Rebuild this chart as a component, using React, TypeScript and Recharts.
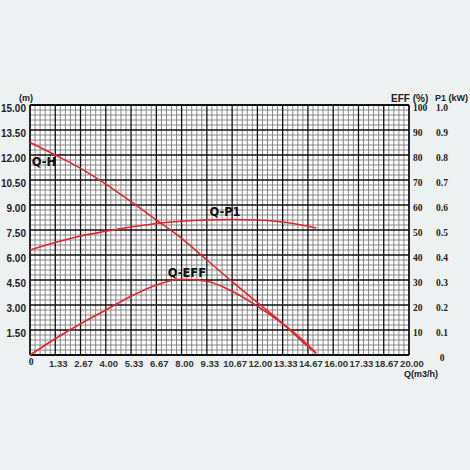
import React from 'react';
import { LineChart, Line, XAxis, YAxis, ReferenceLine, ReferenceArea, ReferenceDot } from 'recharts';

// Flow (m3/h) sample points shared by the three curves
const qValues = [0, 1.33, 2.67, 4, 5.33, 6.67, 8, 9.33, 10.67, 12, 13.33, 14.67, 15.1];
// Q-H head (m)
const headValues = [12.75, 12.0, 11.2, 10.25, 9.2, 8.1, 7.0, 5.7, 4.4, 3.15, 1.9, 0.5, 0.1];
// Q-EFF efficiency (%)
const effValues = [0, 6.5, 12.5, 18, 23.5, 28, 30.3, 29.5, 25.5, 19.5, 12.5, 4, 0.8];
// Q-P1 power (kW)
const powerValues = [0.42, 0.45, 0.476, 0.495, 0.512, 0.526, 0.535, 0.54, 0.542, 0.54, 0.532, 0.515, 0.508];

const xTickLabels = ['0', '1.33', '2.67', '4.00', '5.33', '6.67', '8.00', '9.33', '10.67', '12.00', '13.33', '14.67', '16.00', '17.33', '18.67', '20.00'];
const headTickLabels = ['1.50', '3.00', '4.50', '6.00', '7.50', '9.00', '10.50', '12.00', '13.50', '15.00'];
const effTickLabels = ['10', '20', '30', '40', '50', '60', '70', '80', '90', '100'];
const powerTickLabels = ['0', '0.1', '0.2', '0.3', '0.4', '0.5', '0.6', '0.7', '0.8', '0.9', '1.0'];

const xTicks = xTickLabels.map((s, i) => (i * 4) / 3);
const headTicks = headTickLabels.map(Number);
const effTicks = effTickLabels.map(Number);
const powerTicks = powerTickLabels.map(Number);

const data = qValues.map((q, i) => ({ q, h: headValues[i], eff: effValues[i], p1: powerValues[i] }));

// grid subdivisions (5 minor cells per major cell)
const xGrid = Array.from({ length: 76 }, (_, i) => ({ v: (i * 4) / 15, major: i % 5 === 0, edge: i === 0 || i === 75 }));
const yGrid = Array.from({ length: 51 }, (_, i) => ({ v: i * 0.3, major: i % 5 === 0, edge: i === 0 || i === 50 }));

const RED = '#e3262c';
const SANS = '"Liberation Sans", Arial, sans-serif';
const SERIF = '"Liberation Serif", "Times New Roman", serif';

const XTick = (props: any) => {
  const { x, y, index } = props;
  const label = xTickLabels[index];
  if (index === 0) {
    return (
      <text x={x + 1} y={y + 10} textAnchor="middle" fontFamily={SERIF} fontWeight="bold" fontSize={9.5} fill="#222">
        {label}
      </text>
    );
  }
  return (
    <text x={x + 3} y={y + 12} textAnchor="middle" fontFamily={SANS} fontWeight="bold" fontSize={9.5} fill="#333">
      {label}
    </text>
  );
};

const HeadTick = (props: any) => {
  const { y, index } = props;
  return (
    <text x={26} y={y + 7} textAnchor="end" fontFamily={SANS} fontWeight="bold" fontSize={10} fill="#222">
      {headTickLabels[index]}
    </text>
  );
};

const EffTick = (props: any) => {
  const { x, y, index } = props;
  return (
    <text x={x + 4} y={y + 6} textAnchor="start" fontFamily={SERIF} fontWeight="bold" fontSize={9.5} fill="#222">
      {effTickLabels[index]}
    </text>
  );
};

const PowerTick = (props: any) => {
  const { x, y, index } = props;
  return (
    <text x={x + 6} y={y + 6} textAnchor="middle" fontFamily={SERIF} fontWeight="bold" fontSize={9.5} fill="#222">
      {powerTickLabels[index]}
    </text>
  );
};

const curveLabel = (value: string) => ({
  value,
  position: 'center' as const,
  fill: '#111',
  fontSize: 11.5,
  fontWeight: 'bold',
  fontFamily: '"DejaVu Sans", Verdana, sans-serif',
});

const titleStyle: React.CSSProperties = {
  position: 'absolute',
  fontFamily: SANS,
  fontWeight: 'bold',
  color: '#222',
  whiteSpace: 'nowrap',
  lineHeight: 1,
};

export default function App() {
  return (
    <div style={{ position: 'fixed', left: 0, top: 0, width: 470, height: 470, background: '#eef1f2' }}>
      <LineChart width={470} height={470} data={data} margin={{ top: 105, right: 0, bottom: 95, left: 0 }}>
        <XAxis
          dataKey="q"
          type="number"
          domain={[0, 20]}
          ticks={xTicks}
          interval={0}
          axisLine={false}
          tickLine={false}
          tickSize={0}
          tickMargin={0}
          height={20}
          tick={<XTick />}
        />
        <YAxis
          yAxisId="h"
          type="number"
          domain={[0, 15]}
          ticks={headTicks}
          interval={0}
          axisLine={false}
          tickLine={false}
          tickSize={0}
          width={30}
          tick={<HeadTick />}
        />
        <YAxis
          yAxisId="eff"
          orientation="right"
          type="number"
          domain={[0, 100]}
          ticks={effTicks}
          interval={0}
          axisLine={false}
          tickLine={false}
          tickSize={0}
          tickMargin={0}
          width={27}
          tick={<EffTick />}
        />
        <YAxis
          yAxisId="p1"
          orientation="right"
          type="number"
          domain={[0, 1]}
          ticks={powerTicks}
          interval={0}
          axisLine={false}
          tickLine={false}
          tickSize={0}
          tickMargin={0}
          width={34}
          tick={<PowerTick />}
        />
        <ReferenceArea yAxisId="h" x1={0} x2={20} y1={0} y2={15} fill="#ffffff" fillOpacity={1} stroke="none" />
        {xGrid.filter((g) => !g.major).map((g) => (
          <ReferenceLine key={'xm' + g.v} yAxisId="h" x={g.v} stroke="#7a7a7a" strokeWidth={0.9} />
        ))}
        {yGrid.filter((g) => !g.major).map((g) => (
          <ReferenceLine key={'ym' + g.v} yAxisId="h" y={g.v} stroke="#7a7a7a" strokeWidth={0.9} />
        ))}
        {xGrid.filter((g) => g.major).map((g) => (
          <ReferenceLine key={'xM' + g.v} yAxisId="h" x={g.v} stroke="#111" strokeWidth={g.edge ? 1.8 : 1.3} />
        ))}
        {yGrid.filter((g) => g.major).map((g) => (
          <ReferenceLine key={'yM' + g.v} yAxisId="h" y={g.v} stroke="#111" strokeWidth={g.edge ? 1.8 : 1.3} />
        ))}
        <Line yAxisId="h" type="monotone" dataKey="h" stroke={RED} strokeWidth={1.6} dot={false} isAnimationActive={false} />
        <Line yAxisId="eff" type="monotone" dataKey="eff" stroke={RED} strokeWidth={1.6} dot={false} isAnimationActive={false} />
        <Line yAxisId="p1" type="monotone" dataKey="p1" stroke={RED} strokeWidth={1.6} dot={false} isAnimationActive={false} />
        <ReferenceDot yAxisId="h" x={0.74} y={11.58} r={0} fill="none" stroke="none" label={curveLabel('Q-H')} />
        <ReferenceDot yAxisId="h" x={10.29} y={8.58} r={0} fill="none" stroke="none" label={curveLabel('Q-P1')} />
        <ReferenceDot yAxisId="h" x={8.28} y={4.92} r={0} fill="none" stroke="none" label={curveLabel('Q-EFF')} />
      </LineChart>
      <div style={{ ...titleStyle, left: 19, top: 94, fontSize: 9 }}>(m)</div>
      <div style={{ ...titleStyle, left: 391, top: 94, fontSize: 10 }}>EFF (%)</div>
      <div style={{ ...titleStyle, left: 435, top: 94, fontSize: 9 }}>P1 (kW)</div>
      <div style={{ ...titleStyle, left: 404, top: 370, fontSize: 9 }}>Q(m3/h)</div>
    </div>
  );
}
